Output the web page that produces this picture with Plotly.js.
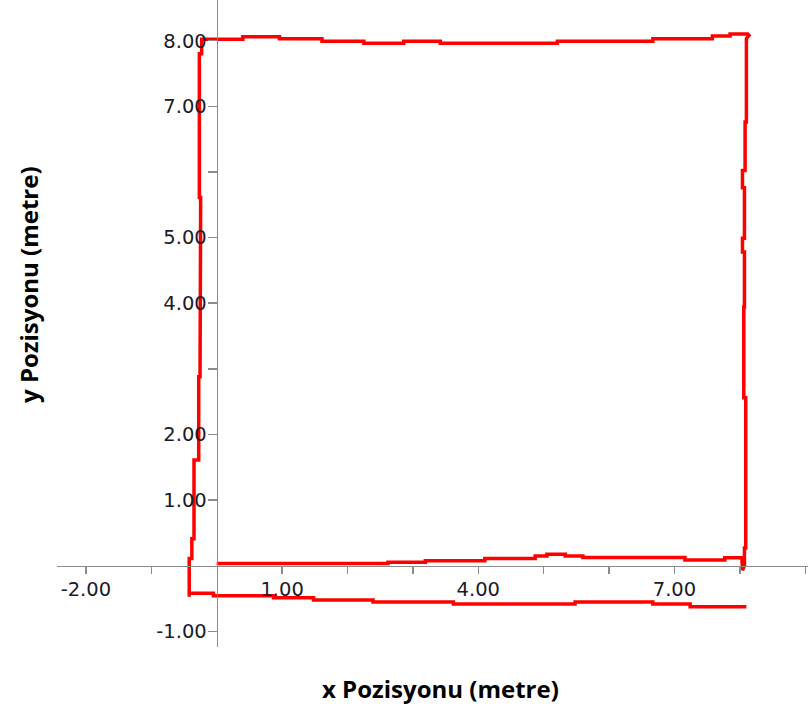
<!DOCTYPE html>
<html>
<head>
<meta charset="utf-8">
<script src="https://cdn.plot.ly/plotly-3.0.1.min.js"></script>
<style>html,body{margin:0;padding:0;background:#fff;}#chart{width:808px;height:711px;}</style>
</head>
<body>
<div id="chart"></div>
<script>
// Tick values and labels
const xTickVals = [-2, -1, 1, 2, 3, 4, 5, 6, 7, 8, 9];
const xTickText = ['-2.00', '', '1.00', '', '', '4.00', '', '', '7.00', '', ''];
const yTickVals = [-1, 1, 2, 3, 4, 5, 6, 7, 8];
const yTickText = ['-1.00', '1.00', '2.00', '', '4.00', '5.00', '', '7.00', '8.00'];

// Path segments (metres)
const bottomX = [0.0, 2.62, 2.62, 3.19, 3.19, 4.10, 4.10, 4.87, 4.87, 5.05, 5.05, 5.33, 5.33, 5.60, 5.60, 7.16, 7.16, 7.77, 7.77, 8.03, 8.04];
const bottomY = [0.034, 0.034, 0.053, 0.053, 0.076, 0.076, 0.11, 0.11, 0.145, 0.145, 0.175, 0.175, 0.145, 0.145, 0.125, 0.125, 0.084, 0.084, 0.12, 0.12, -0.07];

const rightX = [8.07, 8.07, 8.09, 8.09, 8.06, 8.06, 8.07, 8.07, 8.04, 8.04, 8.07, 8.07, 8.04, 8.04, 8.08, 8.08, 8.10, 8.10, 8.14];
const rightY = [0.00, 0.27, 0.27, 2.56, 2.56, 3.94, 3.94, 4.78, 4.78, 4.99, 4.99, 5.76, 5.76, 6.02, 6.02, 6.76, 6.76, 8.03, 8.08];

const topX = [8.12, 7.85, 7.85, 7.58, 7.58, 6.67, 6.67, 5.21, 5.21, 3.42, 3.42, 2.86, 2.86, 2.25, 2.25, 1.61, 1.61, 0.96, 0.96, 0.40, 0.40, -0.23];
const topY = [8.10, 8.10, 8.07, 8.07, 8.03, 8.03, 7.99, 7.99, 7.96, 7.96, 7.99, 7.99, 7.96, 7.96, 7.99, 7.99, 8.03, 8.03, 8.06, 8.06, 8.02, 8.02];

const leftX = [-0.23, -0.23, -0.265, -0.265, -0.245, -0.245, -0.255, -0.255, -0.275, -0.275, -0.347, -0.347, -0.38, -0.38, -0.42, -0.42];
const leftY = [7.99, 7.80, 7.80, 5.61, 5.61, 4.38, 4.38, 2.88, 2.88, 1.61, 1.61, 0.41, 0.41, 0.11, 0.11, -0.475];

const lowerX = [-0.42, -0.05, -0.05, 0.87, 0.87, 1.48, 1.48, 2.39, 2.39, 3.62, 3.62, 5.48, 5.48, 6.67, 6.67, 7.24, 7.24, 8.10];
const lowerY = [-0.42, -0.42, -0.46, -0.46, -0.49, -0.49, -0.525, -0.525, -0.555, -0.555, -0.586, -0.586, -0.555, -0.555, -0.586, -0.586, -0.627, -0.627];

const xTitle = 'x Pozisyonu (metre)';
const yTitle = 'y Pozisyonu (metre)';

const xRange = [-2.442, 9.042];
const yRange = [-1.24, 8.62];

const pathX = [].concat(bottomX, rightX, topX, leftX, lowerX);
const pathY = [].concat(bottomY, rightY, topY, leftY, lowerY);

const trace = {
  x: pathX, y: pathY,
  type: 'scatter', mode: 'lines',
  line: {color: '#ff0000', width: 3.5},
  hoverinfo: 'skip'
};

const axisColor = '#8c8c8c';
const tickFont = {family: 'DejaVu Sans', size: 19.5, color: '#1a1a28'};

const layout = {
  width: 808, height: 711,
  margin: {l: 57, r: 0, t: 0, b: 64, pad: 0},
  paper_bgcolor: '#ffffff', plot_bgcolor: '#ffffff',
  showlegend: false,
  xaxis: {
    range: xRange, anchor: 'free',
    position: (0 - yRange[0]) / (yRange[1] - yRange[0]),
    showgrid: false, zeroline: false,
    showline: true, linecolor: axisColor, linewidth: 1.5,
    ticks: 'outside', ticklen: 7, tickwidth: 1.5, tickcolor: axisColor,
    tickmode: 'array', tickvals: xTickVals, ticktext: xTickText,
    tickfont: tickFont, ticklabelstandoff: -2
  },
  yaxis: {
    range: yRange, anchor: 'free',
    position: (0 - xRange[0]) / (xRange[1] - xRange[0]),
    showgrid: false, zeroline: false,
    showline: true, linecolor: axisColor, linewidth: 1.5,
    ticks: 'outside', ticklen: 9, tickwidth: 1.5, tickcolor: axisColor,
    tickmode: 'array', tickvals: yTickVals, ticktext: yTickText,
    tickfont: tickFont, ticklabelstandoff: -3
  },
  annotations: [
    {text: '<b>' + xTitle + '</b>', xref: 'paper', yref: 'paper',
     x: (440 - 57) / 751, y: (647 - 688) / 647, xanchor: 'center', yanchor: 'middle',
     showarrow: false, font: {family: 'Open Sans', size: 24, color: '#000'}},
    {text: '<b>' + yTitle + '</b>', xref: 'paper', yref: 'paper',
     x: (28 - 57) / 751, y: (647 - 285) / 647, xanchor: 'center', yanchor: 'middle',
     textangle: -90, showarrow: false, font: {family: 'Open Sans', size: 24, color: '#000'}}
  ]
};

Plotly.newPlot('chart', [trace], layout, {displayModeBar: false, staticPlot: true});
</script>
</body>
</html>
